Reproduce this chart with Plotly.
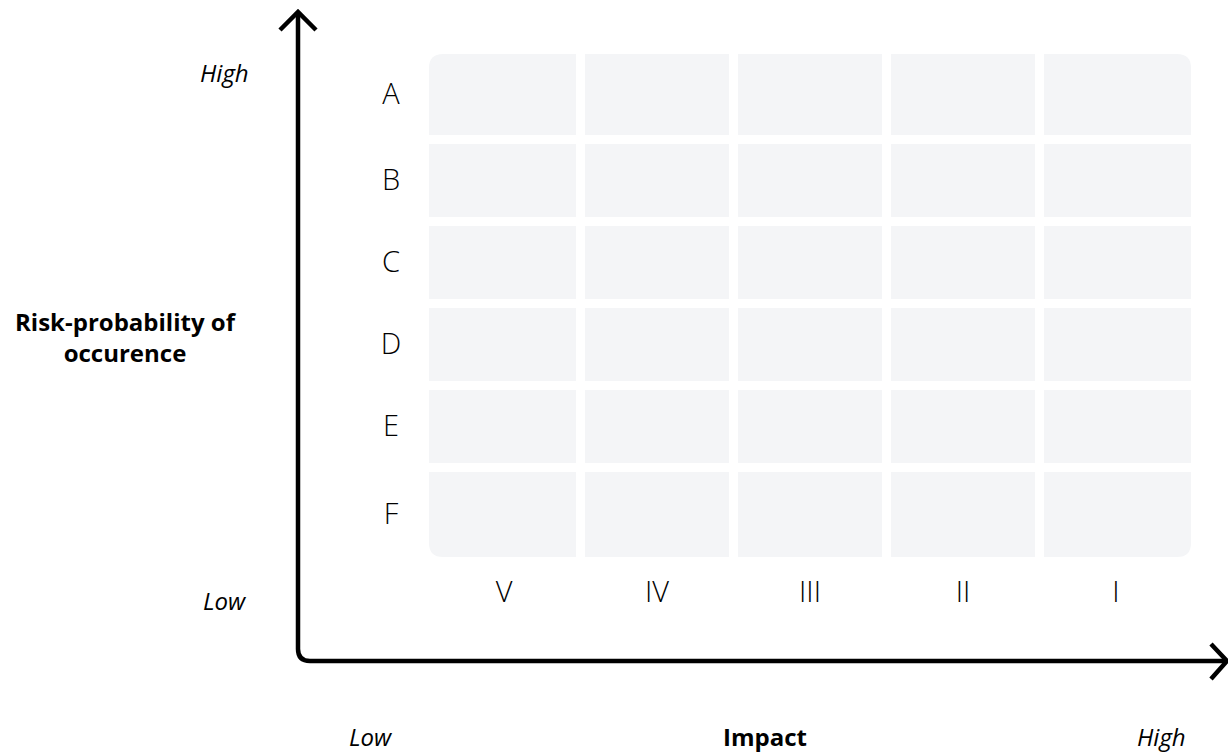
import plotly.graph_objects as go

# ---- data ----
impact_levels = ["V", "IV", "III", "II", "I"]          # columns, low -> high impact
probability_levels = ["A", "B", "C", "D", "E", "F"]    # rows, high -> low probability
axis_low_label = "Low"
axis_high_label = "High"
x_title = "Impact"
y_title = "Risk-probability of<br>occurence"

# ---- geometry (pixel space of the 1228x754 canvas) ----
W, H = 1228, 754
COL0_PX, COL_PITCH = 504.0, 153.0
ROW0_PX, ROW_PITCH = 98.5, 82.0

def px2x(px):
    return (px - COL0_PX) / COL_PITCH

def px2y(py):
    return (py - ROW0_PX) / ROW_PITCH

CELL_FILL = "#f4f5f7"
INK = "#000000"
FONT = "Open Sans"

fig = go.Figure()

shapes = []
nc, nr = len(impact_levels), len(probability_levels)
half_w = 72.0 / COL_PITCH
half_h = 36.5 / ROW_PITCH
R = 14.0
row_centers = []
for j in range(nr):
    y0, y1 = j - half_h, j + half_h
    if j == 0:
        y0 -= 8.0 / ROW_PITCH
    if j == nr - 1:
        y1 += 12.0 / ROW_PITCH
    row_centers.append((y0 + y1) / 2)

for i in range(nc):
    for j in range(nr):
        x0, x1 = i - half_w, i + half_w
        y0, y1 = j - half_h, j + half_h   # y0 = top (axis reversed)
        if i == 0:
            x0 -= 3.0 / COL_PITCH
        if i == nc - 1:
            x1 += 3.0 / COL_PITCH
        if j == 0:
            y0 -= 8.0 / ROW_PITCH
        if j == nr - 1:
            y1 += 12.0 / ROW_PITCH
        tl = R if (i == 0 and j == 0) else 0.0
        tr = R if (i == nc - 1 and j == 0) else 0.0
        br = R if (i == nc - 1 and j == nr - 1) else 0.0
        bl = R if (i == 0 and j == nr - 1) else 0.0
        rx = lambda r: r / COL_PITCH
        ry = lambda r: r / ROW_PITCH
        p = (f"M {x0 + rx(tl)},{y0} L {x1 - rx(tr)},{y0} "
             f"Q {x1},{y0} {x1},{y0 + ry(tr)} "
             f"L {x1},{y1 - ry(br)} Q {x1},{y1} {x1 - rx(br)},{y1} "
             f"L {x0 + rx(bl)},{y1} Q {x0},{y1} {x0},{y1 - ry(bl)} "
             f"L {x0},{y0 + ry(tl)} Q {x0},{y0} {x0 + rx(tl)},{y0} Z")
        shapes.append(dict(type="path", path=p, xref="x", yref="y",
                           fillcolor=CELL_FILL, line=dict(width=0), layer="below"))

# axis arrows
ax_x, ax_y = 298.0, 661.0
rc = 12.0
axis_path = (f"M {px2x(ax_x)},{px2y(13)} L {px2x(ax_x)},{px2y(ax_y - rc)} "
             f"Q {px2x(ax_x)},{px2y(ax_y)} {px2x(ax_x + rc)},{px2y(ax_y)} "
             f"L {px2x(1226)},{px2y(ax_y)}")
shapes.append(dict(type="path", path=axis_path, xref="x", yref="y",
                   line=dict(color=INK, width=4.5)))
up_head = f"M {px2x(280)},{px2y(30)} L {px2x(ax_x)},{px2y(12)} L {px2x(316)},{px2y(30)}"
right_head = f"M {px2x(1211)},{px2y(644)} L {px2x(1227)},{px2y(ax_y)} L {px2x(1211)},{px2y(679)}"
for hp in (up_head, right_head):
    shapes.append(dict(type="path", path=hp, xref="x", yref="y",
                       line=dict(color=INK, width=4.5)))

# row labels
label_dy = 2.5 / ROW_PITCH
fig.add_trace(go.Scatter(
    x=[px2x(391)] * nr, y=[c + label_dy for c in row_centers], mode="text",
    text=probability_levels, textposition="middle center",
    textfont=dict(family=FONT, size=29, color=INK, weight=300),
    hoverinfo="skip", showlegend=False))

# column labels
fig.add_trace(go.Scatter(
    x=list(range(nc)), y=[px2y(595)] * nc, mode="text",
    text=impact_levels, textposition="middle center",
    textfont=dict(family=FONT, size=29, color=INK, weight=300),
    hoverinfo="skip", showlegend=False))

annotations = [
    dict(x=px2x(224), y=px2y(72), text=f"<i>{axis_high_label}</i>"),
    dict(x=px2x(225), y=px2y(600), text=f"<i>{axis_low_label}</i>"),
    dict(x=px2x(371), y=px2y(736), text=f"<i>{axis_low_label}</i>"),
    dict(x=px2x(1161), y=px2y(736), text=f"<i>{axis_high_label}</i>"),
    dict(x=px2x(765), y=px2y(736), text=f"<b>{x_title}</b>"),
    dict(x=px2x(126), y=px2y(337), text=f"<b>{y_title}</b>"),
]
for a in annotations:
    a.update(xref="x", yref="y", showarrow=False, xanchor="center", yanchor="middle",
             font=dict(family=FONT, size=24, color=INK))

fig.update_layout(
    width=W, height=H,
    margin=dict(l=0, r=0, t=0, b=0),
    paper_bgcolor="white", plot_bgcolor="white",
    shapes=shapes, annotations=annotations,
    xaxis=dict(range=[px2x(0), px2x(W)], visible=False, fixedrange=True),
    yaxis=dict(range=[px2y(H), px2y(0)], visible=False, fixedrange=True),
    hovermode=False,
)

fig.write_html("out.html", config={"displayModeBar": False},
               post_script="document.body.style.margin='0';document.body.style.overflow='hidden';")
